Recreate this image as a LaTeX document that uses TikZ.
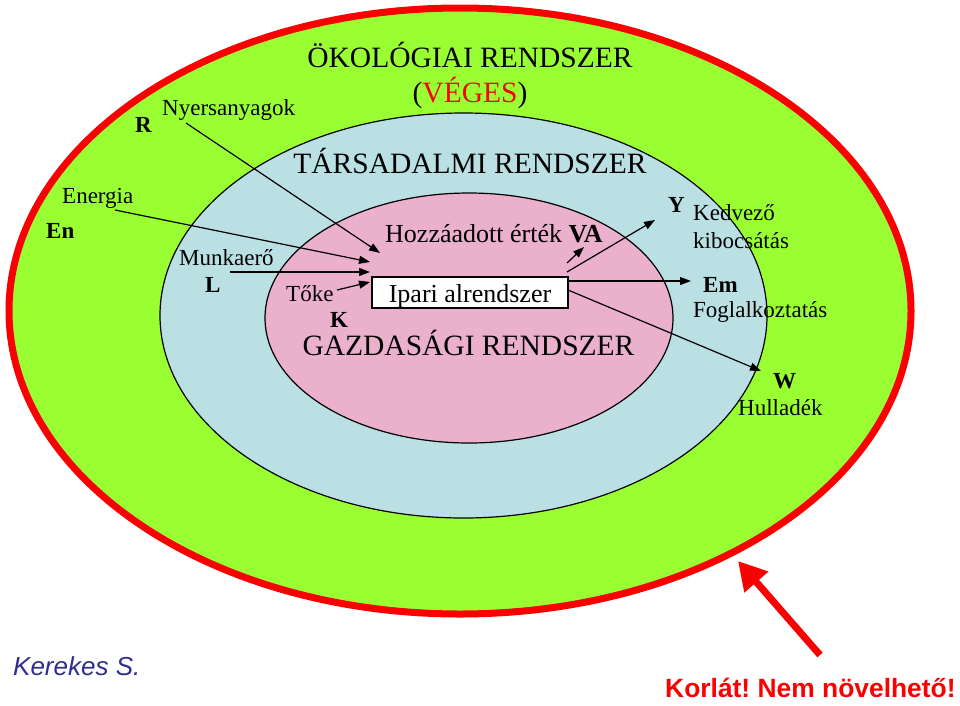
\documentclass[tikz,border=0pt]{standalone}
\usepackage{fontspec}
\setmainfont{Liberation Serif}
\setsansfont{Liberation Sans}
\usetikzlibrary{arrows.meta}
\definecolor{ecogreen}{RGB}{153,255,51}
\definecolor{socblue}{RGB}{186,224,227}
\definecolor{ecopink}{RGB}{235,176,203}
\definecolor{limred}{RGB}{250,0,0}
\definecolor{authblue}{RGB}{46,46,140}
\tikzset{
  lbl/.style={anchor=base west, inner sep=0pt, font=\fontsize{23}{27}\selectfont},
  bl/.style={anchor=base west, inner sep=0pt, font=\fontsize{23}{27}\selectfont\bfseries},
  big/.style={anchor=base, inner sep=0pt, font=\fontsize{29.5}{34}\selectfont},
  mid/.style={anchor=base west, inner sep=0pt, font=\fontsize{26}{30}\selectfont},
  arr/.style={line width=1.2pt, -{Triangle[length=11pt,width=8pt]}},
}
\frenchspacing
\begin{document}
\begin{tikzpicture}[x=1pt,y=-1pt]
\useasboundingbox (0,0) rectangle (960,705);
% ellipses
\draw[fill=ecogreen, draw=limred, line width=7pt] (460,311) ellipse [x radius=451pt, y radius=303pt];
\draw[fill=socblue, draw=black, line width=1.2pt] (463.5,315.5) ellipse [x radius=303.5pt, y radius=202.5pt];
\draw[fill=ecopink, draw=black, line width=1.2pt] (469,318) ellipse [x radius=204pt, y radius=125pt];

% titles
\node[big] (eco) at (470,67) {ÖKOLÓGIAI RENDSZER};
\node[big] (veges) at (470,102) {(\textcolor{limred}{VÉGES})};
\node[big] (tars) at (470,173) {TÁRSADALMI RENDSZER};
\node[big] (gazd) at (468.5,355) {GAZDASÁGI RENDSZER};
\node[mid] (hozz) at (385,242) {Hozzáadott érték \textbf{VA}};

% box
\node[draw, fill=white, line width=1.2pt, inner sep=0pt, minimum width=196pt,
      text height=25pt, text depth=6pt, font=\fontsize{26}{30}\selectfont] (ipari) at (470,292.5) {Ipari alrendszer};

% left labels
\node[lbl] (nyers) at (162,115) {Nyersanyagok};
\node[bl] (R) at (135,132) {R};
\node[lbl] (energia) at (62,203) {Energia};
\node[bl] (En) at (46,238) {En};
\node[lbl] (munka) at (179,265) {Munkaerő};
\node[bl] (L) at (205,292) {L};
\node[lbl] (toke) at (286,301) {Tőke};
\node[bl] (K) at (330,327) {K};

% right labels
\node[bl] (Y) at (668,212) {Y};
\node[lbl] (kedv) at (693,220) {Kedvező};
\node[lbl] (kib) at (693,248) {kibocsátás};
\node[bl] (Em) at (703,292) {Em};
\node[lbl] (fogl) at (693,317) {Foglalkoztatás};
\node[bl] (W) at (773,388) {W};
\node[lbl] (hull) at (738,415) {Hulladék};

% footer
\node[anchor=base west, inner sep=0pt, text=authblue, font=\sffamily\itshape\fontsize{26}{30}\selectfont] (auth) at (13,675) {Kerekes S.};
\node[anchor=base west, inner sep=0pt, text=limred, font=\sffamily\bfseries\fontsize{26.4}{30}\selectfont] (korlat) at (665,697) {Korlát! Nem növelhető!};

% coordinates
\coordinate (nyS) at (186,123);
\coordinate (nyE) at (380,253);
\coordinate (enS) at (115,210);
\coordinate (enE) at (370,262);
\coordinate (muS) at (230,272);
\coordinate (muE) at (370,272);
\coordinate (toS) at (337,290);
\coordinate (toE) at (370,282);
\coordinate (vaS) at (567,263);
\coordinate (vaE) at (584,247);
\coordinate (yS) at (567,272);
\coordinate (yE) at (655,220);
\coordinate (emS) at (568,281);
\coordinate (emE) at (691,281);
\coordinate (wS) at (568,290);
\coordinate (wE) at (761,371);
\coordinate (rS) at (820,655);
\coordinate (rE) at (738,561);

% arrows
\draw[arr] (nyS) -- (nyE);
\draw[arr] (enS) -- (enE);
\draw[arr] (muS) -- (muE);
\draw[arr] (toS) -- (toE);
\draw[arr] (vaS) -- (vaE);
\draw[arr] (yS) -- (yE);
\draw[arr] (emS) -- (emE);
\draw[arr] (wS) -- (wE);
\draw[limred, line width=7pt, -{Triangle[length=28pt,width=30pt]}] (rS) -- (rE);
\end{tikzpicture}
\end{document}
